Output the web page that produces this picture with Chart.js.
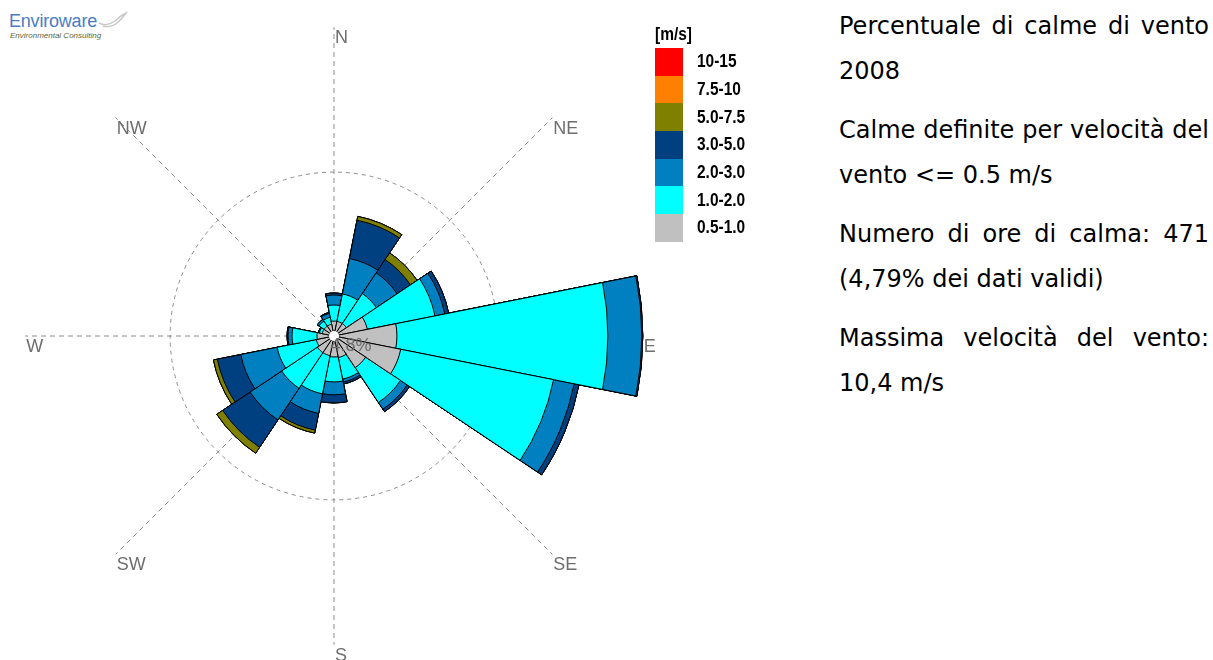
<!DOCTYPE html>
<html>
<head>
<meta charset="utf-8">
<script src="https://cdn.jsdelivr.net/npm/chart.js@4/dist/chart.umd.min.js"></script>
<style>
  body { margin: 0; width: 1213px; height: 660px; overflow: hidden; background: #fff; position: relative; font-family: "Liberation Sans", Arial, sans-serif; }
  #wrap { position: absolute; left: -2px; top: 0; width: 672px; height: 672px; }
  #logo { position: absolute; left: 9px; top: 11px; }
  #logo .name { font-size: 18px; line-height: 20px; color: #4a7cc6; letter-spacing: -0.2px; }
  #logo .sub { font-size: 8px; line-height: 9px; color: #5b6640; font-style: italic; margin-left: 1px; }
  #logo svg { position: absolute; left: 88px; top: 0; }
  #legend { position: absolute; left: 655px; top: 24px; font-family: "Liberation Sans Narrow", "Arial Narrow", "Liberation Sans", Arial, sans-serif; font-weight: bold; }
  #legend .unit { font-size: 18px; line-height: 20px; height: 24px; display: inline-block; transform: scaleX(0.86); transform-origin: left; }
  #legend .item { height: 27.7px; display: flex; align-items: center; font-size: 18px; }
  #legend .box { width: 28px; height: 100%; margin-right: 14px; flex: none; }
  #legend .txt { display: inline-block; transform: scaleX(0.86); transform-origin: left; white-space: nowrap; }
  #notes { position: absolute; left: 839px; top: 4px; width: 370px; font-family: "DejaVu Sans", Verdana, sans-serif; font-size: 24px; line-height: 45px; color: #000; text-align: justify; }
  #notes p { margin: 0 0 14px 0; }
</style>
</head>
<body>
<div id="logo">
  <div class="name">Enviroware</div><div class="sub">Environmental Consulting</div>
  <svg width="32" height="18" viewBox="0 0 32 18"><path d="M2 12 Q10 16 18 10 Q23 5 29 2 Q25 8 20 12 Q14 17 6 15" fill="none" stroke="#c8c8c8" stroke-width="1.4"/></svg>
</div>
<div id="wrap"><canvas id="chart"></canvas></div>
<div id="legend"><div class="unit">[m/s]</div><div id="items"></div></div>
<div id="notes">
  <p>Percentuale di calme di vento 2008</p>
  <p>Calme definite per velocità del vento &lt;= 0.5 m/s</p>
  <p>Numero di ore di calma: 471 (4,79% dei dati validi)</p>
  <p>Massima velocità del vento: 10,4 m/s</p>
</div>
<script>
// 16 directions, frequencies in % for each speed class
const directions = ['N', 'NNE', 'NE', 'ENE', 'E', 'ESE', 'SE', 'SSE', 'S', 'SSW', 'SW', 'WSW', 'W', 'WNW', 'NW', 'NNW'];
const compassLabels = ['N', 'NE', 'E', 'SE', 'S', 'SW', 'W', 'NW'];

const speedClasses = ['0.5-1.0', '1.0-2.0', '2.0-3.0', '3.0-5.0', '5.0-7.5', '7.5-10', '10-15'];
const classColors = ['#c0c0c0', '#00ffff', '#0080c0', '#004080', '#808000', '#ff8000', '#ff0000'];

const s05_10 = [0.91, 0.91, 0.91, 2.07, 3.84, 4.15, 2.32, 1.34, 1.28, 1.22, 1.22, 1.10, 1.04, 0.73, 0.73, 0.73];
const s10_20 = [0.98, 1.71, 2.20, 4.21, 12.87, 9.51, 2.56, 1.34, 1.52, 2.38, 2.62, 2.44, 1.52, 0.18, 0.37, 0.43];
const s20_30 = [0.61, 2.20, 1.52, 0.61, 2.07, 1.28, 0.49, 0.18, 0.79, 1.22, 2.32, 2.26, 0.24, 0.06, 0.12, 0.24];
const s30_50 = [0.12, 2.38, 0.98, 0.24, 0.06, 0.30, 0.18, 0.12, 0.49, 1.04, 2.01, 1.46, 0.06, 0, 0, 0.06];
const s50_75 = [0, 0.24, 0.49, 0, 0, 0, 0, 0, 0, 0.18, 0.43, 0.24, 0, 0, 0, 0];
const s75_10 = [0, 0, 0, 0, 0, 0, 0, 0, 0, 0, 0, 0, 0, 0, 0, 0];
const s10_15 = [0, 0, 0, 0, 0, 0, 0, 0, 0, 0, 0, 0, 0, 0, 0, 0];

const calmLabel = '4.8%';
const gridValue = 10;     // dashed circle
const axisLength = 18.84; // compass lines, in %

// stacked look: cumulative values, smallest class drawn on top
const classes = [s05_10, s10_20, s20_30, s30_50, s50_75, s75_10, s10_15];
let running = directions.map(() => 0);
const datasets = classes.map((vals, k) => {
    running = running.map((v, i) => v + vals[i]);
    return {
        label: speedClasses[k],
        data: running.slice(),
        backgroundColor: classColors[k],
        borderColor: '#000',
        borderWidth: 1
    };
});

// legend (top = highest class)
const items = document.getElementById('items');
for (let k = speedClasses.length - 1; k >= 0; k--) {
    const row = document.createElement('div');
    row.className = 'item';
    row.innerHTML = '<div class="box" style="background:' + classColors[k] + '"></div><span class="txt">' + speedClasses[k] + '</span>';
    items.appendChild(row);
}

const compass = {
    id: 'compass',
    beforeDatasetsDraw(chart) {
        const r = chart.scales.r;
        const ctx = chart.ctx;
        const len = r.getDistanceFromCenterForValue(axisLength);
        ctx.save();
        ctx.strokeStyle = '#8c8c8c';
        ctx.lineWidth = 1;
        ctx.setLineDash([5, 4]);
        ctx.font = '18px "Liberation Sans", Arial, sans-serif';
        ctx.fillStyle = '#6e6e6e';
        ctx.textAlign = 'left';
        ctx.textBaseline = 'top';
        compassLabels.forEach((lab, i) => {
            const a = (i * 45 - 90) * Math.PI / 180;
            const x = r.xCenter + Math.cos(a) * len;
            const y = r.yCenter + Math.sin(a) * len;
            ctx.beginPath();
            ctx.moveTo(r.xCenter, r.yCenter);
            ctx.lineTo(x, y);
            ctx.stroke();
            ctx.fillText(lab, x + 1, y + 2);
        });
        ctx.restore();
    },
    afterDatasetsDraw(chart) {
        const r = chart.scales.r;
        const ctx = chart.ctx;
        ctx.save();
        ctx.fillStyle = '#fff';
        ctx.beginPath();
        ctx.arc(r.xCenter, r.yCenter, 5, 0, Math.PI * 2);
        ctx.fill();
        ctx.font = '18px "Liberation Sans", Arial, sans-serif';
        ctx.fillStyle = '#6a6a6a';
        ctx.textAlign = 'center';
        ctx.textBaseline = 'alphabetic';
        ctx.fillText(calmLabel, r.xCenter + 17, r.yCenter + 15);
        ctx.restore();
    }
};

new Chart(document.getElementById('chart'), {
    type: 'polarArea',
    data: { labels: directions, datasets: datasets },
    options: {
        responsive: true,
        maintainAspectRatio: false,
        animation: false,
        plugins: {
            legend: { display: false },
            tooltip: { enabled: false }
        },
        scales: {
            r: {
                min: 0,
                max: 20.5,
                startAngle: -11.25,
                ticks: { display: false, stepSize: gridValue },
                grid: {
                    circular: true,
                    color: (c) => c.tick && c.tick.value === gridValue ? '#8c8c8c' : 'transparent'
                },
                border: { dash: [4, 4] },
                angleLines: { display: false },
                pointLabels: { display: false }
            }
        }
    },
    plugins: [compass]
});
</script>
</body>
</html>
